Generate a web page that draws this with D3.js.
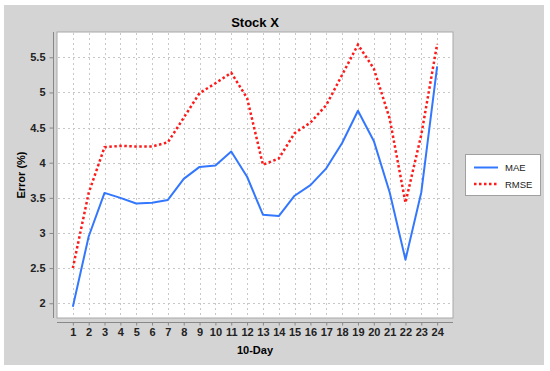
<!DOCTYPE html>
<html>
<head>
<meta charset="utf-8">
<script src="https://cdn.jsdelivr.net/npm/d3@7"></script>
<style>
  body { margin: 0; background: #fff; }
  text { font-family: "Liberation Sans", Arial, sans-serif; }
</style>
</head>
<body>
<div id="chart"></div>
<script>
// chart data
const days = d3.range(1, 25).map(String);
const maeValues = [1.95, 2.95, 3.57, 3.50, 3.42, 3.43, 3.47, 3.77, 3.94, 3.96, 4.16, 3.80,
                   3.26, 3.24, 3.53, 3.68, 3.92, 4.28, 4.74, 4.31, 3.58, 2.62, 3.58, 5.37];
const rmseValues = [2.50, 3.57, 4.22, 4.24, 4.23, 4.23, 4.29, 4.64, 4.99, 5.13, 5.28, 4.92,
                    3.97, 4.06, 4.42, 4.57, 4.82, 5.25, 5.68, 5.34, 4.63, 3.43, 4.40, 5.69];
const yTicks = [2, 2.5, 3, 3.5, 4, 4.5, 5, 5.5];
const seriesNames = ["MAE", "RMSE"];

const width = 550, height = 371;
const plot = { left: 57, top: 32, right: 453, bottom: 318 };

const svg = d3.select("#chart").append("svg")
    .attr("width", width)
    .attr("height", height);

// grey panel
svg.append("rect")
    .attr("x", 4).attr("y", 5)
    .attr("width", 540).attr("height", 360)
    .attr("fill", "#d4d4d4");

const x = d3.scalePoint()
    .domain(days)
    .range([plot.left, plot.right])
    .padding(1);

const y = d3.scaleLinear()
    .domain([1.79, 5.86])
    .range([plot.bottom, plot.top]);

// plot area
svg.append("rect")
    .attr("x", plot.left).attr("y", plot.top)
    .attr("width", plot.right - plot.left)
    .attr("height", plot.bottom - plot.top)
    .attr("fill", "#fff")
    .attr("stroke", "#a8a8a8")
    .attr("stroke-width", 1);

// gridlines
const grid = svg.append("g")
    .attr("stroke", "#c8c8c8")
    .attr("stroke-width", 1)
    .attr("stroke-dasharray", "2,3");

grid.selectAll(".vgrid")
    .data(days)
    .join("line")
    .attr("x1", d => Math.round(x(d)) + 0.5)
    .attr("x2", d => Math.round(x(d)) + 0.5)
    .attr("y1", plot.top + 1)
    .attr("y2", plot.bottom - 1);

grid.selectAll(".hgrid")
    .data(yTicks)
    .join("line")
    .attr("x1", plot.left + 1)
    .attr("x2", plot.right - 1)
    .attr("y1", d => Math.round(y(d)) + 0.5)
    .attr("y2", d => Math.round(y(d)) + 0.5);

// y axis, offset a few pixels from the plot
const yAxis = svg.append("g")
    .attr("transform", "translate(53.5,0)")
    .call(d3.axisLeft(y).tickValues(yTicks).tickSize(4).tickPadding(4).tickFormat(d3.format("")));
yAxis.select(".domain").attr("stroke", "#888").attr("d", `M0,${plot.top}V${plot.bottom}`);
yAxis.selectAll(".tick line").attr("stroke", "#888");
yAxis.selectAll("text")
    .attr("font-family", "Liberation Sans, Arial, sans-serif")
    .attr("font-size", 11)
    .attr("font-weight", "bold")
    .attr("fill", "#222");

// x axis
const xAxis = svg.append("g")
    .attr("transform", "translate(0,322.5)")
    .call(d3.axisBottom(x).tickSize(3).tickPadding(3));
xAxis.select(".domain").attr("stroke", "#888").attr("d", `M${plot.left},0H${plot.right}`);
xAxis.selectAll(".tick line").attr("stroke", "#888");
xAxis.selectAll("text")
    .attr("font-family", "Liberation Sans, Arial, sans-serif")
    .attr("font-size", 11)
    .attr("font-weight", "bold")
    .attr("fill", "#222");

// titles
svg.append("text")
    .attr("x", (plot.left + plot.right) / 2)
    .attr("y", 27)
    .attr("text-anchor", "middle")
    .attr("font-size", 13)
    .attr("font-weight", "bold")
    .text("Stock X");

svg.append("text")
    .attr("x", (plot.left + plot.right) / 2)
    .attr("y", 354)
    .attr("text-anchor", "middle")
    .attr("font-size", 11)
    .attr("font-weight", "bold")
    .text("10-Day");

svg.append("text")
    .attr("transform", `translate(25,${(plot.top + plot.bottom) / 2}) rotate(-90)`)
    .attr("text-anchor", "middle")
    .attr("font-size", 11)
    .attr("font-weight", "bold")
    .text("Error (%)");

// lines
const line = d3.line()
    .x((d, i) => x(days[i]))
    .y(d => y(d));

svg.append("path")
    .datum(rmseValues)
    .attr("fill", "none")
    .attr("stroke", "#ff1a1a")
    .attr("stroke-width", 2.5)
    .attr("stroke-dasharray", "2.5,2.5")
    .attr("d", line);

svg.append("path")
    .datum(maeValues)
    .attr("fill", "none")
    .attr("stroke", "#3377ff")
    .attr("stroke-width", 2)
    .attr("stroke-linejoin", "round")
    .attr("d", line);

// legend
const legend = svg.append("g");
legend.append("rect")
    .attr("x", 465.5).attr("y", 154.5)
    .attr("width", 75).attr("height", 41)
    .attr("fill", "#fff")
    .attr("stroke", "#a0a0a0");

const legendStyles = [
    { color: "#3377ff", dash: null, w: 2 },
    { color: "#ff1a1a", dash: "2.5,2.5", w: 2.5 }
];
seriesNames.forEach((name, i) => {
    const ly = 167.5 + i * 16.5;
    legend.append("line")
        .attr("x1", 474).attr("x2", 498)
        .attr("y1", ly).attr("y2", ly)
        .attr("stroke", legendStyles[i].color)
        .attr("stroke-width", legendStyles[i].w)
        .attr("stroke-dasharray", legendStyles[i].dash);
    legend.append("text")
        .attr("x", 505)
        .attr("y", ly + 3.5)
        .attr("font-size", 9.5)
        .attr("fill", "#222")
        .text(name);
});
</script>
</body>
</html>
